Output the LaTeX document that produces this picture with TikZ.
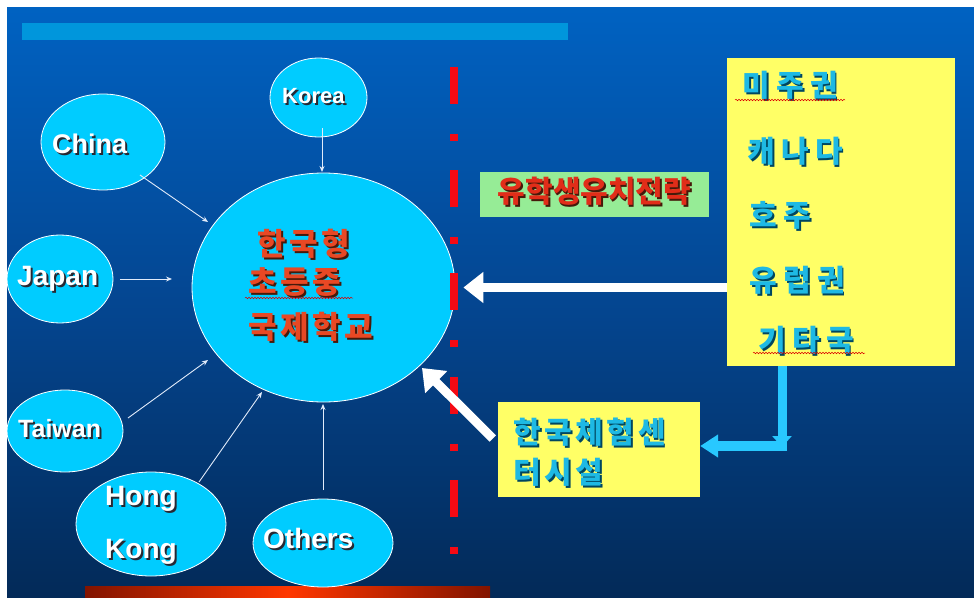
\documentclass[tikz,border=0pt]{standalone}
\usepackage{fontspec}
\setmainfont{Liberation Sans}
\newfontfamily\kr{Noto Sans CJK KR Black}
\usetikzlibrary{arrows.meta,shapes.geometric,decorations.pathmorphing}
\definecolor{bgtop}{RGB}{0,98,194}
\definecolor{bgmid}{RGB}{4,70,145}
\definecolor{bgbot}{RGB}{3,42,88}
\definecolor{topbar}{RGB}{0,150,220}
\definecolor{cyanF}{RGB}{0,204,255}
\definecolor{dashred}{RGB}{245,10,20}
\definecolor{boxyellow}{RGB}{255,255,102}
\definecolor{boxgreen}{RGB}{150,236,150}
\definecolor{txtred}{RGB}{232,72,36}
\definecolor{txtred2}{RGB}{225,45,25}
\definecolor{txtcyan}{RGB}{30,185,228}
\definecolor{shdark}{RGB}{70,25,10}
\definecolor{shteal}{RGB}{0,70,95}
\definecolor{shgray}{RGB}{40,40,50}
\definecolor{arrcyan}{RGB}{40,200,255}
\definecolor{barred}{RGB}{130,20,0}
\definecolor{barorange}{RGB}{255,55,0}
\definecolor{feedwhite}{RGB}{225,235,250}
\newcommand\shtxt[3]{\makebox[0pt][l]{\hspace*{#2}\raisebox{-#2}{\textcolor{#1}{#3}}}#3}
\begin{document}
\begin{tikzpicture}[x=1pt,y=-1pt,
  country/.style={ellipse, fill=cyanF, draw=white, line width=0.8pt, inner sep=0pt},
  lbl/.style={anchor=base west, inner sep=0pt, text=white, font=\bfseries\fontsize{28}{30}\selectfont},
  maintxt/.style={anchor=base west, inner sep=0pt, text=txtred, font=\kr\fontsize{31}{33}\selectfont\addfontfeatures{LetterSpace=12}},
  ytxt/.style={anchor=base west, inner sep=0pt, text=txtcyan, font=\kr\fontsize{30}{32}\selectfont\addfontfeatures{LetterSpace=21}},
  btxt/.style={anchor=base west, inner sep=0pt, text=txtcyan, font=\kr\fontsize{30}{32}\selectfont\addfontfeatures{LetterSpace=12}},
  squig/.style={draw=red!85!black, line width=0.5pt, decorate, decoration={snake, amplitude=0.8pt, segment length=3pt}},
  feed/.style={draw=feedwhite, line width=0.9pt, -{Stealth[length=6pt,width=5pt]}},
  bigwhite/.style={draw=white, line width=9pt, -{Triangle[length=20pt,width=30pt]}},
  cyanflow/.style={draw=arrcyan, line width=10pt}]
\useasboundingbox (0,0) rectangle (974,597);
\fill[white] (0,0) rectangle (974,597);
\shade[top color=bgtop, bottom color=bgbot, middle color=bgmid] (7,7) rectangle (974,597);
\fill[topbar] (22,23) rectangle (568,40);
\shade[left color=barred, right color=barred, middle color=barorange] (85,586) rectangle (490,597);

% ellipses
\node[country, minimum width=263pt, minimum height=229pt] (main) at (323.5,287.5) {};
\node[country, minimum width=97pt, minimum height=79pt] (korea) at (318.5,97.5) {};
\node[country, minimum width=124pt, minimum height=96pt] (china) at (103,142) {};
\node[country, minimum width=106pt, minimum height=88pt] (japan) at (60,279) {};
\node[country, minimum width=116pt, minimum height=82pt] (taiwan) at (65,431) {};
\node[country, minimum width=150pt, minimum height=104pt] (hk) at (151,524) {};
\node[country, minimum width=140pt, minimum height=88pt] (others) at (323,543) {};

% labels
\node[lbl, font=\bfseries\fontsize{22}{24}\selectfont] at (282,103) {\shtxt{shgray}{2pt}{Korea}};
\node[lbl, font=\bfseries\fontsize{27}{29}\selectfont] at (52,153) {\shtxt{shgray}{2pt}{China}};
\node[lbl] at (17,285) {\shtxt{shgray}{2pt}{Japan}};
\node[lbl, font=\bfseries\fontsize{25}{27}\selectfont] at (18,437) {\shtxt{shgray}{2pt}{Taiwan}};
\node[lbl] at (105,505) {\shtxt{shgray}{2pt}{Hong}};
\node[lbl] at (105,558) {\shtxt{shgray}{2pt}{Kong}};
\node[lbl] at (263,548) {\shtxt{shgray}{2pt}{Others}};

\node[maintxt] at (257,255) {\shtxt{shdark}{2pt}{한국형}};
\node[maintxt] at (248,293) {\shtxt{shdark}{2pt}{초등중}};
\node[maintxt] at (248,338) {\shtxt{shdark}{2pt}{국제학교}};
\draw[squig] (245,298) -- (353,298);

% boxes
\node[fill=boxgreen, minimum width=229pt, minimum height=45pt, inner sep=0pt, text=txtred2,
      font=\kr\fontsize{30}{32}\selectfont, text height=1.7em, text depth=0.06em]
      (green) at (594.5,194.5) {\shtxt{shdark}{1.5pt}{유학생유치전략}};
\node[fill=boxyellow, minimum width=228pt, minimum height=308pt, inner sep=0pt] (yellow) at (841,212) {};
\node[fill=boxyellow, minimum width=202pt, minimum height=95pt, inner sep=0pt] (box2) at (599,449.5) {};

\node[ytxt] at (742,96) {\shtxt{shteal}{2pt}{미주권}};
\node[ytxt] at (747,162) {\shtxt{shteal}{2pt}{캐나다}};
\node[ytxt] at (749,226) {\shtxt{shteal}{2pt}{호주}};
\node[ytxt] at (749,291) {\shtxt{shteal}{2pt}{유럽권}};
\node[ytxt] at (758,351) {\shtxt{shteal}{2pt}{기타국}};
\draw[squig] (735,100) -- (845,100);
\draw[squig] (753,353) -- (865,353);

\node[btxt] at (513,443) {\shtxt{shteal}{2pt}{한국체험센}};
\node[btxt] at (513,483) {\shtxt{shteal}{2pt}{터시설}};

% red dash-dot divider
\draw[dashred, line width=8pt, dash pattern=on 37pt off 30pt on 7pt off 29.3pt] (454,66.7) -- (454,560);

% thin arrows
\draw[feed] ([shift={(3.5,30.5)}]korea.center) -- ([shift={(-1.5,-115.5)}]main.center);
\draw[feed] ([shift={(37,33)}]china.center) -- ([shift={(-115.5,-65.5)}]main.center);
\draw[feed] ([shift={(60,0)}]japan.center) -- ([shift={(-151.5,-8.5)}]main.center);
\draw[feed] ([shift={(63,-13)}]taiwan.center) -- ([shift={(-115.5,72.5)}]main.center);
\draw[feed] ([shift={(48,-42)}]hk.center) -- ([shift={(-61.5,104.5)}]main.center);
\draw[feed] ([shift={(0,-53)}]others.center) -- ([shift={(-0.5,116.5)}]main.center);

% thick white arrows
\draw[bigwhite] (main.east -| yellow.west) -- ([xshift=8pt]main.east);
\draw[bigwhite] ([shift={(-5,-11)}]box2.west) -- ([shift={(98.5,80.5)}]main.center);

% cyan connector
\coordinate (corner) at (782,446);
\draw[cyanflow, -{Triangle[length=18pt,width=22pt]}] ([xshift=5pt]corner) -- (corner -| box2.east);
\draw[cyanflow, line width=9pt, -{Triangle[length=11pt,width=19pt]}] (corner |- yellow.south) -- ([yshift=-1pt]corner);
\end{tikzpicture}
\end{document}
